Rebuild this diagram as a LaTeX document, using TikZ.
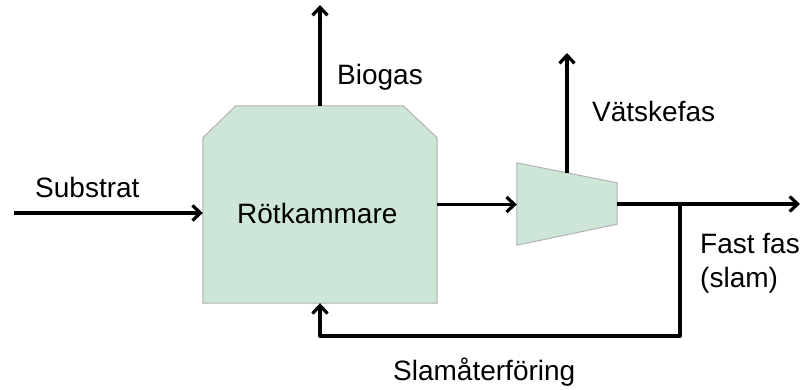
\documentclass[tikz,border=0pt]{standalone}
\usepackage{fontspec}
\setmainfont{Liberation Sans}
\usetikzlibrary{arrows.meta,calc,positioning}
\definecolor{tankgreen}{HTML}{CDE6D8}

\begin{document}
\begin{tikzpicture}[x=1pt,y=-1pt,
	flow/.style={line width=3.2pt,line join=round,-{Straight Barb[length=8pt,width=15pt]}},
	unit/.style={fill=tankgreen,draw=black!30,line width=1pt},
	lbl/.style={font=\fontsize{28}{32}\selectfont,inner sep=0pt,anchor=base west}]
\useasboundingbox(0,0)rectangle(802,390);
%rotkammare och separator
\node(rk)[minimum width=234pt,minimum height=197pt,inner sep=0pt]at(320,204.5){};
\draw[unit](rk.south west)--($(rk.north west)+(0,32)$)--($(rk.north west)+(33,0)$)--($(rk.north east)+(-34,0)$)--($(rk.north east)+(0,32)$)--(rk.south east)--cycle;
\node(rktxt)[lbl]at(237,223){Rötkammare};
\node(sep)[minimum width=100pt,minimum height=82pt,inner sep=0pt]at(567,204){};
\draw[unit](sep.north west)--(sep.south west)--($(sep.south east)+(0,-21)$)--($(sep.north east)+(0,20)$)--cycle;
%flöden
\coordinate(in)at(14,213);
\coordinate(gas)at(320,5);
\coordinate(liq)at(567,53);
\coordinate(out)at(800,204);
\coordinate(br)at(680,204);
\coordinate(ret)at(680,336);
\draw[flow](in)--(in-|rk.west);
\draw[flow](rk.north)--(gas);
\draw[flow](rk.east)--(rk.east-|sep.west);
\draw[flow]($(sep.north)+(0,10)$)--(liq);
\draw[flow](sep.east)--(out);
\draw[flow](br)--(ret)-|(rk.south);
%etiketter
\node(substrat)[lbl]at(35,197){Substrat};
\node(biogas)[lbl]at(337,85){Biogas};
\node(vatska)[lbl]at(592,122){Vätskefas};
\node(fast)[lbl]at(700,253){Fast fas};
\node(slam)[lbl]at(700,287){(slam)};
\node(retur)[lbl]at(393,380){Slamåterföring};
\end{tikzpicture}
\end{document}
